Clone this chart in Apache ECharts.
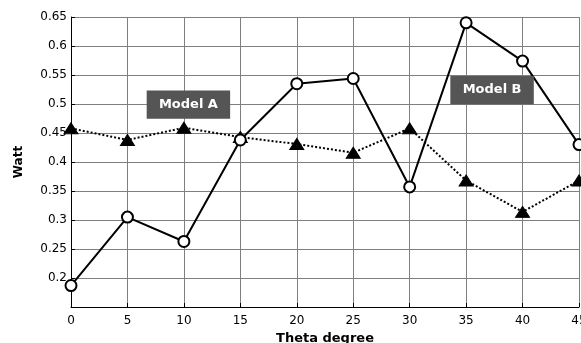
<!DOCTYPE html>
<html>
<head>
<meta charset="utf-8">
<script src="https://cdn.jsdelivr.net/npm/echarts@6/dist/echarts.min.js"></script>
<style>
  html, body { margin: 0; padding: 0; background: #fff; }
  #chart { width: 581px; height: 343px; }
</style>
</head>
<body>
<div id="chart"></div>
<script>
// Angle (degrees) on the x axis
const thetaDeg = [0, 5, 10, 15, 20, 25, 30, 35, 40, 45];
// Power (W) of the two models
const modelB = [0.187, 0.305, 0.263, 0.438, 0.535, 0.544, 0.357, 0.640, 0.574, 0.430];
const modelA = [0.458, 0.438, 0.459, 0.443, 0.431, 0.416, 0.458, 0.368, 0.314, 0.368];
// Callout boxes: [theta, watt, text]
const calloutA = [10.4, 0.499, 'Model A'];
const calloutB = [37.3, 0.524, 'Model B'];

const font = '"DejaVu Sans", sans-serif';
const pairs = (ys) => thetaDeg.map((x, i) => [x, ys[i]]);

const callout = (c) => ({
  coord: [c[0], c[1]],
  symbol: 'rect',
  symbolSize: [80, 27],
  itemStyle: { color: '#555555', borderColor: '#555555' },
  label: {
    show: true, position: 'inside', formatter: c[2],
    color: '#ffffff', fontWeight: 'bold', fontSize: 13, fontFamily: font
  }
});

const chart = echarts.init(document.getElementById('chart'), null, { renderer: 'canvas' });
chart.setOption({
  animation: false,
  backgroundColor: '#ffffff',
  grid: { left: 71, right: 2, top: 17, bottom: 36, outerBoundsMode: 'none', containLabel: false },
  xAxis: {
    type: 'value', min: 0, max: 45, interval: 5,
    name: 'Theta degree', nameLocation: 'middle', nameGap: 22,
    nameTextStyle: { fontWeight: 'bold', fontSize: 13, color: '#000', fontFamily: font },
    axisLine: { show: true, onZero: false, lineStyle: { color: '#000', width: 1 } },
    axisTick: { show: true, inside: true, length: 4, lineStyle: { color: '#000' } },
    axisLabel: { color: '#000', fontSize: 12, fontFamily: font, margin: 8 },
    splitLine: { show: true, lineStyle: { color: '#7f7f7f', width: 1 } }
  },
  yAxis: {
    type: 'value', min: 0.15, max: 0.65, interval: 0.05,
    name: 'Watt', nameLocation: 'middle', nameGap: 46, nameRotate: 90,
    nameTextStyle: { fontWeight: 'bold', fontSize: 12, color: '#000', fontFamily: font },
    axisLine: { show: true, onZero: false, lineStyle: { color: '#000', width: 1 } },
    axisTick: { show: true, inside: true, length: 4, lineStyle: { color: '#000' } },
    axisLabel: {
      color: '#000', fontSize: 12, fontFamily: font, margin: 4,
      showMinLabel: false,
      formatter: (v) => String(+v.toFixed(2))
    },
    splitLine: { show: true, lineStyle: { color: '#7f7f7f', width: 1 } }
  },
  series: [
    {
      name: 'Model A', type: 'line', data: pairs(modelA),
      symbol: 'triangle', symbolSize: [14, 11],
      itemStyle: { color: '#000', borderColor: '#000' },
      lineStyle: { color: '#000', width: 2, type: [2, 2] },
      z: 2
    },
    {
      name: 'Model B', type: 'line', data: pairs(modelB),
      symbol: 'circle', symbolSize: 11,
      itemStyle: { color: '#fff', borderColor: '#000', borderWidth: 2 },
      lineStyle: { color: '#000', width: 2 },
      z: 3,
      markPoint: { silent: true, data: [callout(calloutA), callout(calloutB)] }
    }
  ]
});
</script>
</body>
</html>
